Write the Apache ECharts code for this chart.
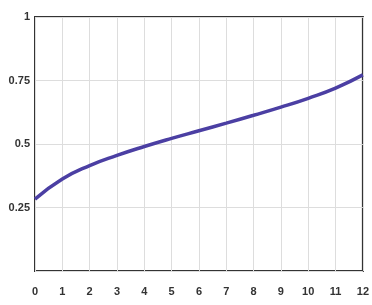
<!DOCTYPE html>
<html><head><meta charset="utf-8">
<script src="https://cdn.jsdelivr.net/npm/echarts@6/dist/echarts.min.js"></script>
<style>html,body{margin:0;padding:0;background:#fff}#c{width:372px;height:305px}</style>
</head><body><div id="c"></div>
<script>
var xValues = [0,1,2,3,4,5,6,7,8,9,10,11,12];
var yValues = [0.283,0.362,0.415,0.455,0.49,0.522,0.552,0.582,0.613,0.645,0.68,0.72,0.772];
var yTickLabels = {'0.25':'0.25','0.5':'0.5','0.75':'0.75','1':'1'};

var chart = echarts.init(document.getElementById('c'));
chart.setOption({
  animation:false,
  grid:{left:35,top:17,right:3,bottom:34,show:true,borderColor:'#333',borderWidth:2,backgroundColor:'#fff'},
  xAxis:{type:'value',min:0,max:12,interval:1,
    axisLine:{show:false},axisTick:{show:false},
    axisLabel:{margin:15,color:'#333',fontSize:11,fontWeight:'bold',fontFamily:'Liberation Sans'},
    splitLine:{show:true,lineStyle:{color:'#ddd',width:1}}},
  yAxis:{type:'value',min:0,max:1,interval:0.25,
    axisLine:{show:false},axisTick:{show:false},
    axisLabel:{margin:5,color:'#333',fontSize:11,fontWeight:'bold',fontFamily:'Liberation Sans',
      formatter:function(v){var k=String(v);return yTickLabels[k]||'';}},
    splitLine:{show:true,lineStyle:{color:'#ddd',width:1}}},
  series:[{type:'line',smooth:0.5,symbol:'none',
    data:xValues.map(function(x,i){return [x,yValues[i]];}),
    lineStyle:{color:'#4b3fa3',width:3.5}}]
});
</script></body></html>
